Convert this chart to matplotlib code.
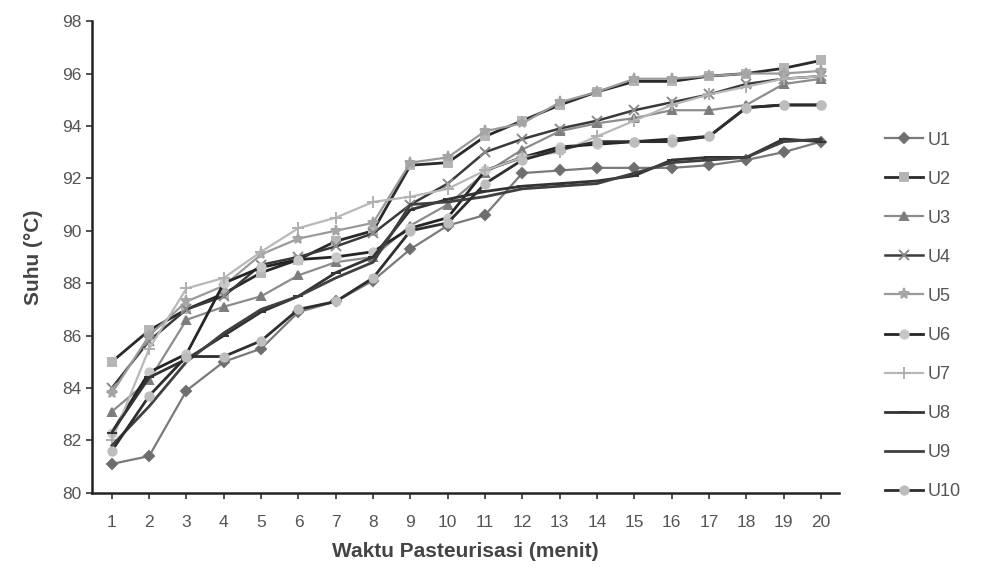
import numpy as np
import matplotlib
matplotlib.use("Agg")
import matplotlib.pyplot as plt

plt.rcParams['font.family'] = ['Liberation Sans', 'DejaVu Sans']

# waktu (menit)
menit = list(range(1, 21))

# suhu tiap ulangan
u1 = [81.1, 81.4, 83.9, 85.0, 85.5, 86.9, 87.3, 88.1, 89.3, 90.2, 90.6, 92.2, 92.3, 92.4, 92.4, 92.4, 92.5, 92.7, 93.0, 93.4]
u2 = [85.0, 86.2, 87.0, 87.6, 88.4, 88.9, 89.6, 90.0, 92.5, 92.6, 93.6, 94.2, 94.8, 95.3, 95.7, 95.7, 95.9, 96.0, 96.2, 96.5]
u3 = [83.1, 84.3, 86.6, 87.1, 87.5, 88.3, 88.8, 89.0, 90.2, 91.0, 92.2, 93.1, 93.8, 94.1, 94.3, 94.6, 94.6, 94.8, 95.6, 95.8]
u4 = [84.0, 85.8, 87.0, 87.5, 88.7, 89.0, 89.4, 89.9, 91.0, 91.8, 93.0, 93.5, 93.9, 94.2, 94.6, 94.9, 95.2, 95.6, 95.8, 95.9]
u5 = [83.8, 86.0, 87.3, 87.9, 89.1, 89.7, 90.0, 90.3, 92.6, 92.8, 93.8, 94.1, 94.9, 95.3, 95.8, 95.8, 95.9, 96.0, 96.0, 96.1]
u6 = [82.3, 84.6, 85.3, 88.0, 88.6, 88.9, 89.0, 89.2, 90.1, 90.5, 92.3, 92.8, 93.2, 93.3, 93.4, 93.5, 93.6, 94.7, 94.8, 94.8]
u7 = [82.0, 85.5, 87.8, 88.2, 89.2, 90.1, 90.5, 91.1, 91.3, 91.6, 92.3, 92.8, 93.0, 93.6, 94.2, 94.8, 95.2, 95.5, 95.8, 95.9]
u8 = [82.3, 84.4, 85.1, 86.0, 86.9, 87.5, 88.4, 89.0, 90.8, 91.2, 91.5, 91.7, 91.8, 91.9, 92.1, 92.7, 92.8, 92.8, 93.5, 93.4]
u9 = [81.8, 83.3, 85.0, 86.1, 87.0, 87.5, 88.2, 88.8, 91.0, 91.1, 91.3, 91.6, 91.7, 91.8, 92.2, 92.6, 92.7, 92.8, 93.4, 93.5]
u10 = [81.6, 83.7, 85.2, 85.2, 85.8, 87.0, 87.3, 88.2, 90.0, 90.3, 91.8, 92.7, 93.1, 93.4, 93.4, 93.4, 93.6, 94.7, 94.8, 94.8]

labels = ["U1", "U2", "U3", "U4", "U5", "U6", "U7", "U8", "U9", "U10"]
series = [u1, u2, u3, u4, u5, u6, u7, u8, u9, u10]

# (warna garis, tebal, marker, warna marker, ukuran)
gaya = [
    ("#7a7a7a", 1.6, "D", "#6e6e6e", 5),
    ("#2a2a2a", 2.0, "s", "#b5b5b5", 6),
    ("#8c8c8c", 1.6, "^", "#7d7d7d", 6),
    ("#3a3a3a", 1.8, "x", "#8a8a8a", 7),
    ("#9a9a9a", 1.6, "*", "#a5a5a5", 8),
    ("#252525", 2.0, "o", "#c8c8c8", 6),
    ("#b8b8b8", 1.6, "+", "#b0b0b0", 8),
    ("#333333", 2.0, "_", "#333333", 7),
    ("#404040", 2.0, "", "#404040", 0),
    ("#2e2e2e", 2.0, "o", "#bdbdbd", 6),
]

fig = plt.figure(figsize=(9.9, 5.71), dpi=100)
ax = fig.add_axes([0.093, 0.137, 0.754, 0.826])

for y, lab, (lc, lw, m, mc, ms) in zip(series, labels, gaya):
    ax.plot(menit, y, color=lc, lw=lw, marker=m if m else None,
            markersize=ms, markerfacecolor=mc, markeredgecolor=mc,
            markeredgewidth=1.4, label=lab)

ax.set_xlim(0.47, 20.47)
ax.set_ylim(80, 98)
ax.set_xticks(menit)
ax.set_yticks(range(80, 99, 2))
ax.tick_params(axis="both", colors="#333333", labelcolor="#555555",
               labelsize=12.5, length=4, width=1.2, direction="out")
ax.tick_params(axis="x", pad=12)
for s in ["top", "right"]:
    ax.spines[s].set_visible(False)
for s in ["left", "bottom"]:
    ax.spines[s].set_color("#222222")
    ax.spines[s].set_linewidth(1.8)

ax.set_xlabel("Waktu Pasteurisasi (menit)", fontsize=15, fontweight="bold",
              color="#444444", labelpad=9)
ax.set_ylabel("Suhu (°C)", fontsize=15, fontweight="bold", color="#444444",
              labelpad=14)

leg = ax.legend(loc="upper left", bbox_to_anchor=(1.04, 0.8), frameon=False,
                fontsize=13, handlelength=2.1, labelspacing=1.22,
                handletextpad=0.3)
for t in leg.get_texts():
    t.set_color("#555555")

fig.savefig("out.png", dpi=100)
